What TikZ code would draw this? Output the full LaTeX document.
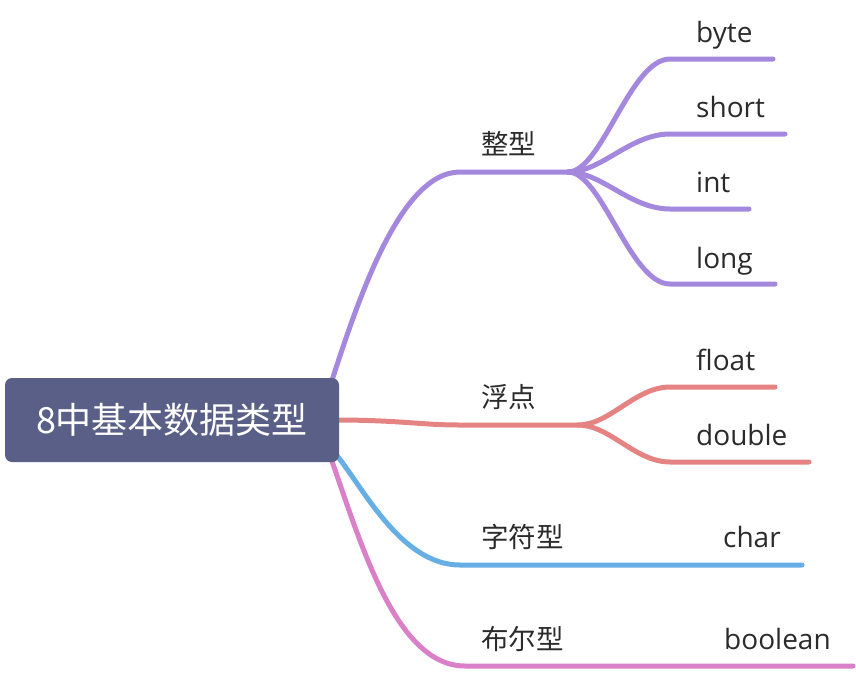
\documentclass[tikz,border=0pt]{standalone}
\usepackage{fontspec}
\setmainfont{Open Sans}
\newfontfamily\cjk{Noto Sans CJK SC}
\usetikzlibrary{backgrounds}
\definecolor{rootc}{HTML}{595F87}
\definecolor{purp}{HTML}{A488DE}
\definecolor{redc}{HTML}{E58383}
\definecolor{bluec}{HTML}{66AEE3}
\definecolor{pinkc}{HTML}{DA80C8}
\definecolor{txt}{HTML}{2B2B2B}
\tikzset{
  conn/.style={line width=5pt, line cap=round},
  rootbox/.style={fill=rootc, rounded corners=7pt, minimum width=334pt, minimum height=84pt, inner sep=0pt, text=white, font=\cjk\fontsize{36}{42}\selectfont},
  leaf/.style={anchor=base west, inner sep=0pt, text=txt, font=\fontsize{28}{32}\selectfont},
  cat/.style={anchor=base west, inner sep=0pt, text=txt, font=\cjk\fontsize{27.5}{32}\selectfont},
}
\begin{document}
\begin{tikzpicture}[x=1pt,y=-1pt]
\useasboundingbox (0,0) rectangle (856,672);
\node[rootbox] (root) at (172,420) {8中基本数据类型};

% labels
\node[cat]  (zx)  at (481,154) {整型};
\node[leaf] (byte) at (696,42)  {byte};
\node[leaf] (short) at (696,117) {short};
\node[leaf] (int) at (696,192) {int};
\node[leaf] (long) at (696,268) {long};
\node[cat]  (fd)  at (481,407) {浮点};
\node[leaf] (float) at (696,370) {float};
\node[leaf] (double) at (696,445) {double};
\node[cat]  (zf)  at (481,547) {字符型};
\node[leaf] (char) at (723,547) {char};
\node[cat]  (be)  at (481,649) {布尔型};
\node[leaf] (bool) at (724,649) {boolean};

% junction coordinates
\coordinate (zxa) at (460,172);
\coordinate (zxf) at (568,172);
\coordinate (bytee) at (773,59);
\coordinate (shorte) at (785,134);
\coordinate (inte) at (749,209);
\coordinate (longe) at (775,284);
\coordinate (fdf) at (578,425);
\coordinate (floate) at (775,387);
\coordinate (doublee) at (809,462);
\coordinate (zfa) at (460,565);
\coordinate (zfe) at (802,565);
\coordinate (bea) at (465,666);
\coordinate (bee) at (853,666);

\begin{scope}[on background layer]
% purple
\draw[conn,purp] ([shift={(-9,8)}]root.north east) .. controls (358,300) and (400,172) .. (zxa) -- (zxf);
\draw[conn,purp] (zxf) .. controls (602,172) and (630,59) .. (670,59) -- (bytee);
\draw[conn,purp] (zxf) .. controls (602,172) and (630,134) .. (670,134) -- (shorte);
\draw[conn,purp] (zxf) .. controls (602,172) and (630,209) .. (670,209) -- (inte);
\draw[conn,purp] (zxf) .. controls (602,172) and (630,284) .. (670,284) -- (longe);
% red
\draw[conn,redc] ([xshift=-5pt]root.east) .. controls (400,420) and (420,425) .. (460,425) -- (fdf);
\draw[conn,redc] (fdf) .. controls (610,425) and (635,387) .. (670,387) -- (floate);
\draw[conn,redc] (fdf) .. controls (610,425) and (635,462) .. (670,462) -- (doublee);
% blue
\draw[conn,bluec] ([shift={(-5,-10)}]root.south east) .. controls (362,485) and (400,565) .. (zfa) -- (zfe);
% pink
\draw[conn,pinkc] ([shift={(-9,-6)}]root.south east) .. controls (360,540) and (395,666) .. (bea) -- (bee);
\end{scope}
\end{tikzpicture}
\end{document}
